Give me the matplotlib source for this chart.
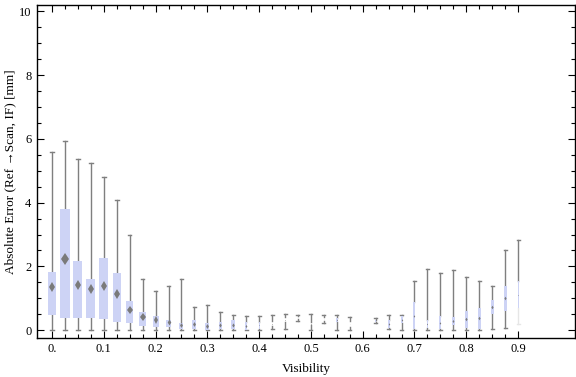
import numpy as np
import matplotlib
matplotlib.use('Agg')
import matplotlib.pyplot as plt
from matplotlib.ticker import MultipleLocator, FixedLocator

plt.rcParams['font.family'] = ['Liberation Serif', 'DejaVu Serif']

# visibility bins
vis = [0.000, 0.025, 0.050, 0.075, 0.100, 0.125, 0.150, 0.175, 0.200, 0.225,
       0.250, 0.275, 0.300, 0.325, 0.350, 0.375, 0.400, 0.425, 0.450, 0.475,
       0.500, 0.525, 0.550, 0.575, 0.600, 0.625, 0.650, 0.675, 0.700, 0.725,
       0.750, 0.775, 0.800, 0.825, 0.850, 0.875, 0.900]

# whisker low, box low, marker, box high, whisker high  [mm]
w_lo = [0, 0, 0, 0, 0, 0, 0, 0, 0, 0,
        0, 0, 0, 0, 0, 0, 0, 0.05, 0.04, 0.29,
        0, 0.23, 0, 0, np.nan, 0.21, 0.03, 0.02, 0.02, 0.02,
        0.02, 0.02, 0, 0, 0.03, 0.07, 0.18]
q1 = [0.47, 0.38, 0.38, 0.38, 0.34, 0.26, 0.23, 0.14, 0.10, 0.10,
      0.05, 0.05, 0.02, 0.03, 0.03, 0.02, 0.05, 0.12, 0.27, 0.35,
      0.15, 0.30, 0.26, 0.10, np.nan, 0.25, 0.08, 0.21, 0.03, 0.08,
      0.04, 0.17, 0.08, 0.03, 0.50, 0.60, 0.68]
mid = [1.36, 2.22, 1.41, 1.28, 1.39, 1.15, 0.64, 0.41, 0.32, 0.25,
       0.17, 0.19, 0.14, 0.16, 0.16, 0.14, 0.15, 0.20, 0.32, 0.40,
       0.20, 0.35, 0.32, 0.20, np.nan, 0.30, 0.20, 0.33, 0.45, 0.20,
       0.22, 0.30, 0.35, 0.38, 0.72, 1.00, 1.10]
q3 = [1.84, 3.79, 2.18, 1.62, 2.26, 1.78, 0.90, 0.56, 0.44, 0.31,
      0.24, 0.31, 0.22, 0.25, 0.31, 0.26, 0.25, 0.30, 0.40, 0.45,
      0.25, 0.40, 0.38, 0.30, np.nan, 0.33, 0.33, 0.44, 0.89, 0.33,
      0.44, 0.42, 0.60, 0.71, 0.94, 1.37, 1.54]
w_hi = [5.59, 5.93, 5.38, 5.25, 4.81, 4.07, 2.97, 1.59, 1.24, 1.40,
        1.62, 0.74, 0.80, 0.58, 0.49, 0.44, 0.44, 0.47, 0.50, 0.48,
        0.50, 0.48, 0.48, 0.41, np.nan, 0.37, 0.49, 0.49, 1.53, 1.93,
        1.80, 1.88, 1.66, 1.53, 1.40, 2.50, 2.84]

# box widths in pixels (style)
box_px = [8, 10, 9, 9, 9, 8, 7, 7, 6, 5,
          4, 4, 4, 3.5, 3.5, 2.5, 1, 0.8, 0.8, 0.3,
          0.8, 0.3, 1.5, 0.3, 0, 0.5, 2, 2, 2, 1.5,
          2, 2.5, 3, 3, 3, 3, 1]

fig = plt.figure(figsize=(5.76, 3.77), dpi=100)
ax = fig.add_axes([37 / 576, 39.5 / 377, 538 / 576, 332.5 / 377])
xmin, xmax = -0.029, 1.01
ax.set_xlim(xmin, xmax)
ax.set_ylim(-0.23, 10.2)
px = (xmax - xmin) / 538.0

box_col = '#cdd3f5'
wh_col = '#7f7f7f'
for i, x in enumerate(vis):
    if np.isnan(mid[i]):
        continue
    w = box_px[i] * px
    cap = max(3.0, 0.45 * box_px[i]) * px
    lo_col = '#e6e6e6' if i == len(vis) - 1 else wh_col
    ax.plot([x, x], [q3[i], w_hi[i]], color=wh_col, lw=1.0, zorder=2)
    ax.plot([x, x], [w_lo[i], q1[i]], color=lo_col, lw=1.0, zorder=2)
    ax.plot([x - cap / 2, x + cap / 2], [w_hi[i], w_hi[i]], color=wh_col, lw=1.0, zorder=2)
    ax.plot([x - cap / 2, x + cap / 2], [w_lo[i], w_lo[i]], color=lo_col, lw=1.0, zorder=2)
    if w > 0:
        ax.bar(x, q3[i] - q1[i], bottom=q1[i], width=w, color=box_col,
               edgecolor='none', zorder=3)
        ax.plot(x, mid[i], marker='d', color='#7a7a7a', markeredgewidth=0,
                markersize=0.72 * box_px[i] * 0.85, zorder=4)

ax.xaxis.set_major_locator(FixedLocator([0, 0.1, 0.2, 0.3, 0.4, 0.5, 0.6, 0.7, 0.8, 0.9]))
ax.xaxis.set_minor_locator(FixedLocator(vis))
ax.set_xticklabels(['0.', '0.1', '0.2', '0.3', '0.4', '0.5', '0.6', '0.7', '0.8', '0.9'])
ax.yaxis.set_major_locator(MultipleLocator(2))
ax.yaxis.set_minor_locator(MultipleLocator(0.5))
ax.tick_params(which='both', direction='in', top=True, right=True,
               labelsize=9, width=0.8, pad=4)
ax.tick_params(which='major', length=5)
ax.tick_params(which='minor', length=3)
for s in ax.spines.values():
    s.set_linewidth(1.0)

ax.set_xlabel('Visibility', fontsize=9.5, labelpad=6)
ax.set_ylabel('Absolute Error (Ref \u2192Scan, IF) [mm]', fontsize=9.5, labelpad=2)

fig.savefig('out.png', dpi=100)
